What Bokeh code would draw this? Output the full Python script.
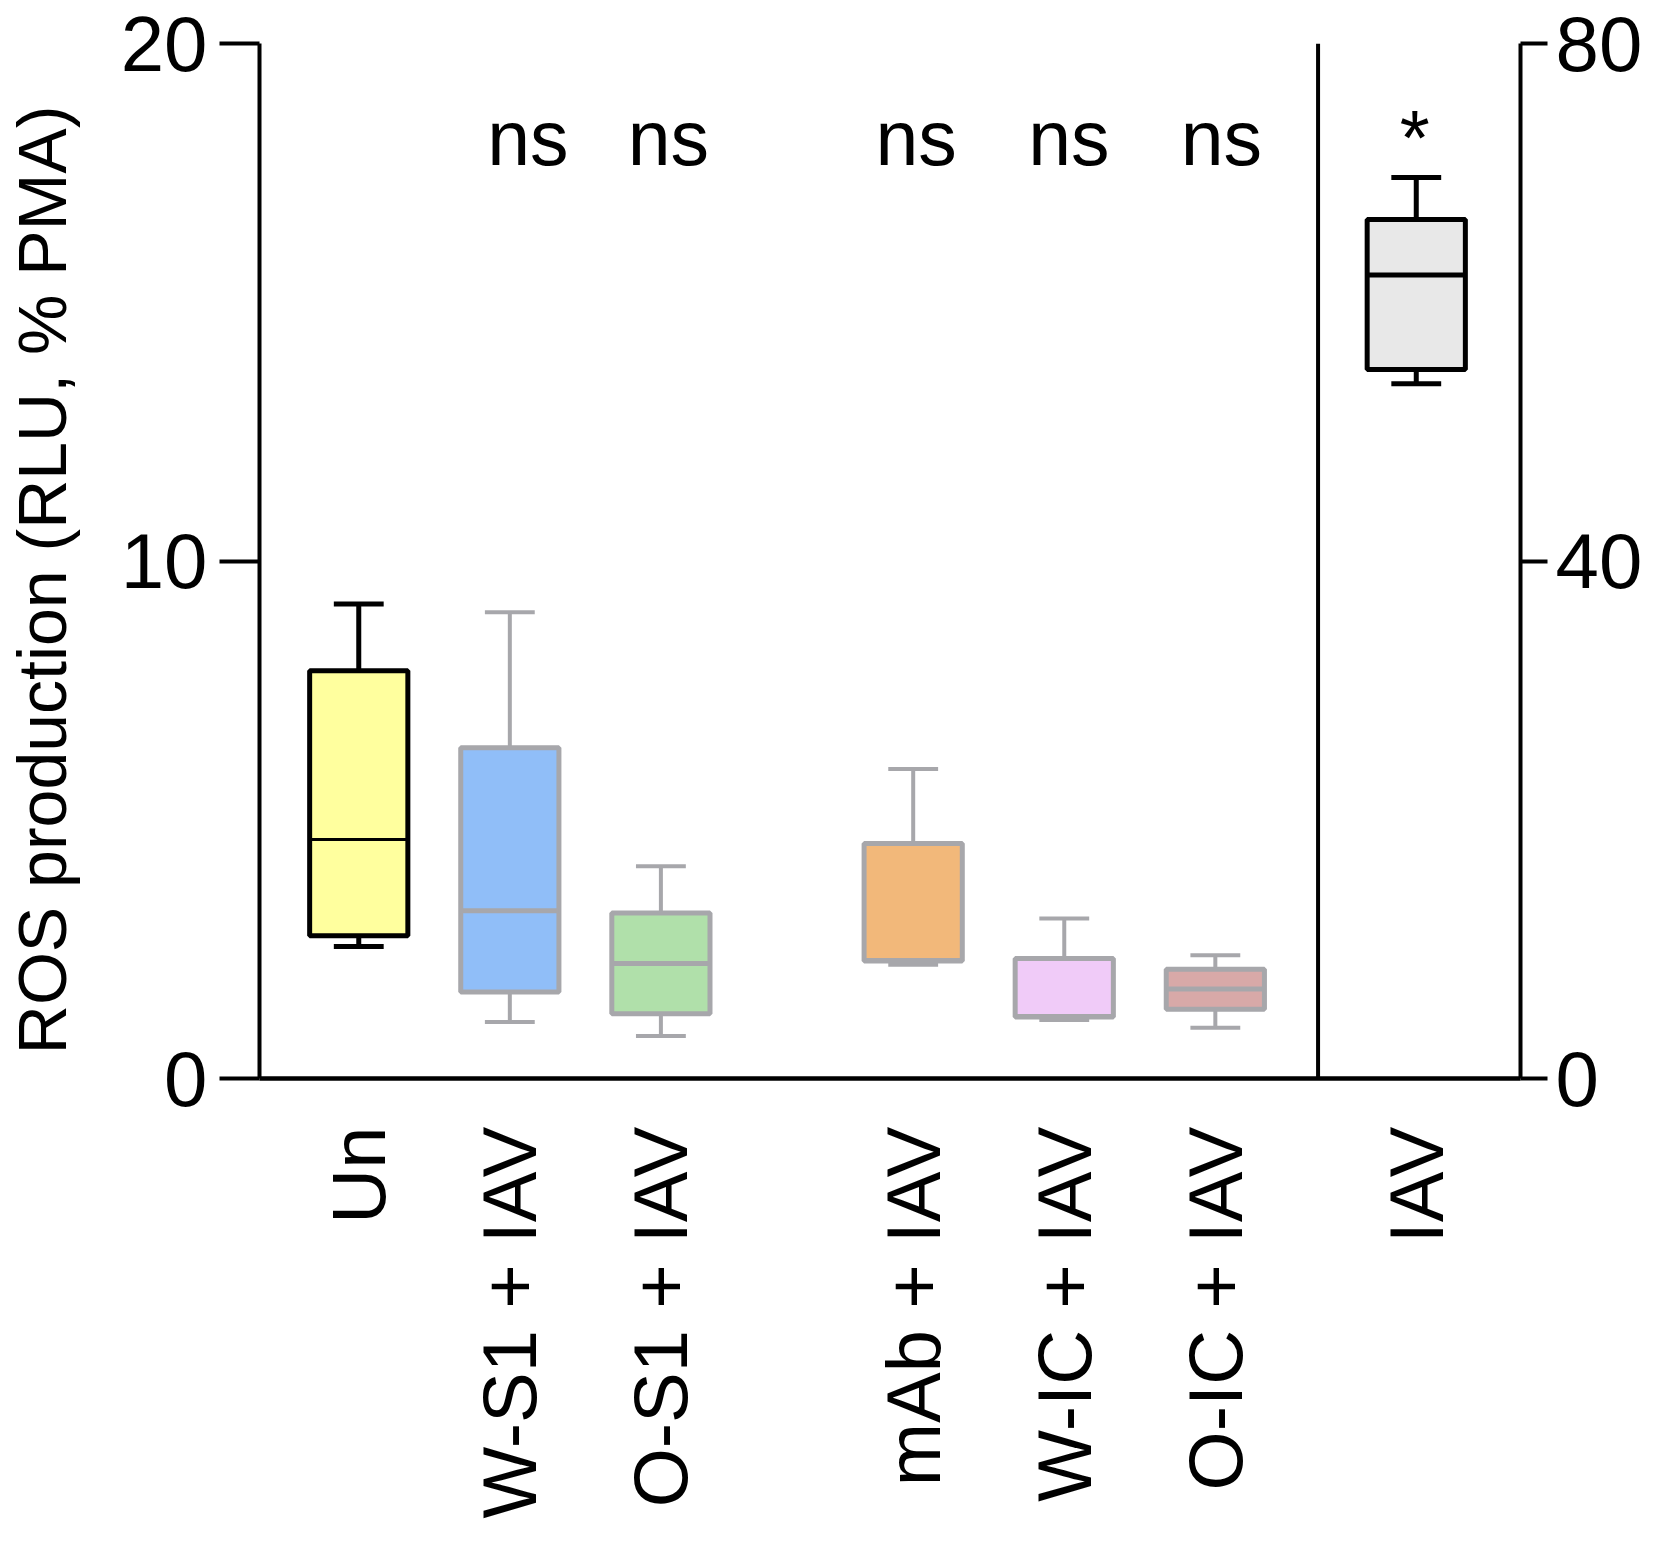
import math
from bokeh.plotting import figure
from bokeh.models import Range1d, LinearAxis, FixedTicker, ColumnDataSource
from bokeh.core.properties import value
from bokeh.embed import file_html
from bokeh.resources import INLINE

# ---------------- data ----------------
categories = ["Un", "W-S1 + IAV", "O-S1 + IAV", "mAb + IAV", "W-IC + IAV", "O-IC + IAV", "IAV"]
whisker_low = [2.55, 1.09, 0.82, 2.20, 1.13, 0.98, 53.7]
q1 = [2.76, 1.67, 1.25, 2.27, 1.19, 1.34, 54.8]
median = [4.62, 3.24, 2.22, 2.28, 1.20, 1.73, 62.1]
q3 = [7.88, 6.39, 3.20, 4.54, 2.32, 2.11, 66.4]
whisker_high = [9.17, 9.01, 4.10, 5.98, 3.09, 2.38, 69.65]
significance = ["", "ns", "ns", "ns", "ns", "ns", "*"]
left_ticks = [0, 10, 20]
right_ticks = [0, 40, 80]
y_title = "ROS production (RLU, % PMA)"

# ---------------- layout / style ----------------
xpos = [0.0, 1.0, 2.0, 3.67, 4.67, 5.67, 7.0]
sig_x = [0.0, 1.12, 2.05, 3.69, 4.70, 5.71, 6.99]
sig_y = 18.17
divider_x = 6.35
fills = ["#FFFF9E", "#90BEF8", "#B0E0AA", "#F2B87A", "#F0CBF8", "#D8A9A8", "#E8E8E8"]
lines = ["#000000", "#A7A7AB", "#A7A7AB", "#A7A7AB", "#A7A7AB", "#A7A7AB", "#000000"]
median_w = [3, 5, 5, 5, 5, 5, 5]
use_right = [False] * 6 + [True]
box_w = 0.65
cap_w = 0.33
FONT = "Liberation Sans"
title_pad = "\u00a0\u00a0"  # nudges the centred axis title slightly downward, as in the original

p = figure(width=1645, height=1532,
           x_range=Range1d(-0.657, 7.69), y_range=Range1d(0, 20),
           output_backend="svg", toolbar_location=None,
           min_border_left=257, min_border_right=123,
           min_border_top=43, min_border_bottom=454)
p.extra_y_ranges = {"right": Range1d(0, 80)}
p.xgrid.visible = False
p.ygrid.visible = False
p.outline_line_color = None
p.background_fill_color = "white"
p.border_fill_color = "white"

# left axis
ya = p.yaxis[0]
ya.ticker = FixedTicker(ticks=left_ticks)
ya.minor_tick_line_color = None
ya.major_tick_out = 40
ya.major_tick_in = 0
ya.major_tick_line_width = 4
ya.axis_line_width = 4
ya.major_label_text_font = FONT
ya.major_label_text_font_size = "78px"
ya.major_label_text_color = "black"
ya.major_label_standoff = 12
ya.axis_label = y_title + title_pad
ya.axis_label_text_font = FONT
ya.axis_label_text_font_size = "68px"
ya.axis_label_text_font_style = "normal"
ya.axis_label_text_color = "black"
ya.axis_label_standoff = 38

# right axis
ra = LinearAxis(y_range_name="right", ticker=FixedTicker(ticks=right_ticks))
ra.minor_tick_line_color = None
ra.major_tick_out = 27
ra.major_tick_in = 0
ra.major_tick_line_width = 4
ra.axis_line_width = 4
ra.major_label_text_font = FONT
ra.major_label_text_font_size = "78px"
ra.major_label_text_color = "black"
ra.major_label_standoff = 8
p.add_layout(ra, "right")

# bottom axis
xa = p.xaxis[0]
xa.ticker = FixedTicker(ticks=xpos)
xa.major_label_overrides = {x: c for x, c in zip(xpos, categories)}
xa.minor_tick_line_color = None
xa.major_tick_line_color = None
xa.major_tick_out = 0
xa.major_tick_in = 0
xa.axis_line_width = 4.5
xa.major_label_orientation = math.pi / 2
xa.major_label_standoff = 48
xa.major_label_text_font = FONT
xa.major_label_text_font_size = "76px"
xa.major_label_text_color = "black"

# divider line
p.segment(x0=[divider_x], y0=[0], x1=[divider_x], y1=[20], line_color="black", line_width=4)

# boxes
for i in range(len(categories)):
    rn = "right" if use_right[i] else "default"
    x = xpos[i]
    src = ColumnDataSource(dict(
        x=[x], lo=[whisker_low[i]], q1=[q1[i]], med=[median[i]], q3=[q3[i]], hi=[whisker_high[i]],
        xl=[x - box_w / 2], xr=[x + box_w / 2], cl=[x - cap_w / 2], cr=[x + cap_w / 2]))
    lw = 4 if lines[i] != "#000000" else 5
    # whiskers
    p.segment(x0="x", y0="q3", x1="x", y1="hi", source=src, line_color=lines[i], line_width=lw, y_range_name=rn)
    p.segment(x0="x", y0="lo", x1="x", y1="q1", source=src, line_color=lines[i], line_width=lw, y_range_name=rn)
    p.segment(x0="cl", y0="hi", x1="cr", y1="hi", source=src, line_color=lines[i], line_width=lw, y_range_name=rn)
    p.segment(x0="cl", y0="lo", x1="cr", y1="lo", source=src, line_color=lines[i], line_width=lw, y_range_name=rn)
    # box
    p.vbar(x="x", width=box_w, bottom="q1", top="q3", source=src, fill_color=fills[i],
           line_color=lines[i], line_width=5, y_range_name=rn)
    # median
    p.segment(x0="xl", y0="med", x1="xr", y1="med", source=src, line_color=lines[i],
              line_width=median_w[i], y_range_name=rn)

# significance labels
sig_src = ColumnDataSource(dict(x=[sig_x[i] for i in range(len(significance)) if significance[i]],
                                y=[sig_y for s in significance if s],
                                t=[s for s in significance if s]))
p.text(x="x", y="y", text="t", source=sig_src, text_font=value(FONT), text_font_size="77px",
       text_align="center", text_baseline="alphabetic", text_color="black")

open("out.html", "w").write(file_html(p, INLINE))
